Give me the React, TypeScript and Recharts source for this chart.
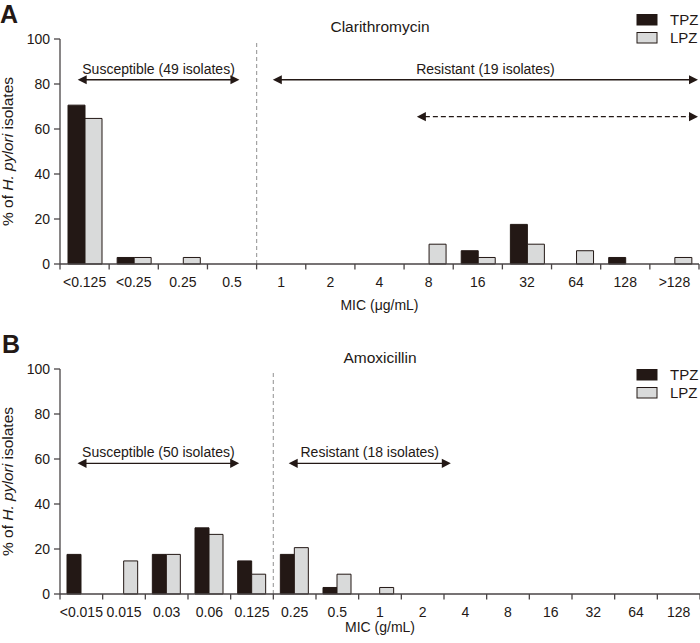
import React from 'react';
import { BarChart, Bar, XAxis, YAxis, ReferenceLine } from 'recharts';

// ---------- data ----------
const categoriesA = ['<0.125', '<0.25', '0.25', '0.5', '1', '2', '4', '8', '16', '32', '64', '128', '>128'];
const tpzA = [70.6, 2.9, 0, 0, 0, 0, 0, 0, 5.9, 17.6, 0, 2.9, 0];
const lpzA = [64.7, 2.9, 2.9, 0, 0, 0, 0, 8.8, 2.9, 8.8, 5.9, 0, 2.9];

const categoriesB = ['<0.015', '0.015', '0.03', '0.06', '0.125', '0.25', '0.5', '1', '2', '4', '8', '16', '32', '64', '128'];
const tpzB = [17.6, 0, 17.6, 29.4, 14.7, 17.6, 2.9, 0, 0, 0, 0, 0, 0, 0, 0];
const lpzB = [0, 14.7, 17.6, 26.5, 8.8, 20.6, 8.8, 2.9, 0, 0, 0, 0, 0, 0, 0];

const yTicks = [0, 20, 40, 60, 80, 100];

// annotation arrows (from/to in category units along the axis, y in %)
const arrowsA = [
  { from: 0.36, to: 3.65, y: 81.9, text: 'Susceptible (49 isolates)', dashed: false },
  { from: 4.33, to: 12.98, y: 81.9, text: 'Resistant (19 isolates)', dashed: false },
  { from: 7.26, to: 12.98, y: 65.5, text: '', dashed: true },
];
const arrowsB = [
  { from: 0.41, to: 4.2, y: 58.1, text: 'Susceptible (50 isolates)', dashed: false },
  { from: 5.36, to: 9.16, y: 58.1, text: 'Resistant (18 isolates)', dashed: false },
];

const dataA = categoriesA.map((mic, i) => ({ mic, tpz: tpzA[i], lpz: lpzA[i] }));
const dataB = categoriesB.map((mic, i) => ({ mic, tpz: tpzB[i], lpz: lpzB[i] }));

// ---------- style ----------
const FONT = "'Liberation Sans', Arial, Helvetica, sans-serif";
const INK = '#231815';
const AXIS = '#4a4546';
const LPZ_FILL = '#d9dada';

// shape for an annotation arrow. The segment is anchored at the start of two
// categories (through the band scale); fractional parts are applied with the
// scale's own step (derived from the two anchored pixel positions).
function makeArrow(from: number, to: number, text: string, dashed: boolean) {
  const i0 = Math.floor(from);
  const i1 = Math.floor(to);
  return (p: any) => {
    const a = Number(p.x1);
    const b = Number(p.x2);
    const step = (b - a) / (i1 - i0);
    const x1 = a + (from - i0) * step;
    const x2 = b + (to - i1) * step;
    const y = Number(p.y1);
    const L = 9;
    const H = 4.6;
    return (
      <g>
        <line
          x1={x1 + L - 1}
          y1={y}
          x2={x2 - L + 1}
          y2={y}
          stroke={INK}
          strokeWidth={1.3}
          strokeDasharray={dashed ? '5 3' : undefined}
        />
        <polygon points={`${x1},${y} ${x1 + L},${y - H} ${x1 + L},${y + H}`} fill={INK} />
        <polygon points={`${x2},${y} ${x2 - L},${y - H} ${x2 - L},${y + H}`} fill={INK} />
        {text ? (
          <text x={(x1 + x2) / 2} y={y - 6} textAnchor="middle" fontSize={14} fill={INK} fontFamily={FONT}>
            {text}
          </text>
        ) : null}
      </g>
    );
  };
}

function yLabel(props: any) {
  const vb = props.viewBox || { x: 0, y: 0, width: 60, height: 225 };
  const cy = vb.y + vb.height / 2;
  const x = 12.5;
  return (
    <text
      x={x}
      y={cy}
      transform={`rotate(-90, ${x}, ${cy})`}
      textAnchor="middle"
      fontSize={15.5}
      fill={INK}
      fontFamily={FONT}
    >
      % of <tspan fontStyle="italic">H. pylori</tspan> isolates
    </text>
  );
}

function makeXLabel(text: string, dy: number) {
  return (props: any) => {
    const vb = props.viewBox || { x: 60, y: 264, width: 639, height: 50 };
    return (
      <text x={vb.x + vb.width / 2} y={vb.y + dy} textAnchor="middle" fontSize={14} fill={INK} fontFamily={FONT}>
        {text}
      </text>
    );
  };
}

type Arrow = { from: number; to: number; y: number; text: string; dashed: boolean };

type PanelProps = {
  data: any[];
  cats: string[];
  arrows: Arrow[];
  divider: number;
  height: number;
  marginTop: number;
  marginRight: number;
  xAxisHeight: number;
  xLabel: string;
  xLabelDy: number;
  barSize: number;
};

function Panel(p: PanelProps) {
  const n = p.cats.length;
  const boundaries = Array.from({ length: n + 1 }, (_, i) => i);
  return (
    <BarChart
      width={700}
      height={p.height}
      data={p.data}
      margin={{ top: p.marginTop, right: p.marginRight, bottom: 6, left: 0 }}
      barGap={0}
      style={{ fontFamily: FONT }}
    >
      <XAxis
        dataKey="mic"
        interval={0}
        tickLine={false}
        axisLine={{ stroke: AXIS, strokeWidth: 1.3 }}
        tick={{ fontSize: 14, fill: INK }}
        tickSize={6}
        tickMargin={7}
        height={p.xAxisHeight}
        label={makeXLabel(p.xLabel, p.xLabelDy)}
      />
      <YAxis
        width={60}
        domain={[0, 100]}
        ticks={yTicks}
        interval={0}
        tickSize={6}
        tickMargin={4}
        axisLine={{ stroke: AXIS, strokeWidth: 1.3 }}
        tickLine={{ stroke: AXIS, strokeWidth: 1.3 }}
        tick={{ fontSize: 14, fill: INK }}
        label={yLabel}
      />
      <Bar
        dataKey="tpz"
        name="TPZ"
        fill={INK}
        stroke={INK}
        strokeWidth={1}
        barSize={p.barSize}
        isAnimationActive={false}
      />
      <Bar
        dataKey="lpz"
        name="LPZ"
        fill={LPZ_FILL}
        stroke={INK}
        strokeWidth={1}
        barSize={p.barSize}
        isAnimationActive={false}
      />
      {boundaries.map((b) => {
        const cat = p.cats[Math.min(b, n - 1)];
        return (
          <ReferenceLine
            key={`tk-${b}`}
            ifOverflow="visible"
            position={b < n ? 'start' : 'end'}
            segment={[
              { x: cat, y: 0 },
              { x: cat, y: -2.4 },
            ]}
            stroke={AXIS}
            strokeWidth={1.3}
          />
        );
      })}
      <ReferenceLine
        ifOverflow="visible"
        position="start"
        segment={[
          { x: p.cats[p.divider], y: 0 },
          { x: p.cats[p.divider], y: 98.7 },
        ]}
        stroke="#a3a3a3"
        strokeWidth={1.2}
        strokeDasharray="4 3"
      />
      {p.arrows.map((a, i) => (
        <ReferenceLine
          key={`ar-${i}`}
          ifOverflow="visible"
          position="start"
          segment={[
            { x: p.cats[Math.floor(a.from)], y: a.y },
            { x: p.cats[Math.floor(a.to)], y: a.y },
          ]}
          stroke={INK}
          shape={makeArrow(a.from, a.to, a.text, a.dashed)}
        />
      ))}
    </BarChart>
  );
}

function LegendBlock({ top }: { top: number }) {
  return (
    <g>
      <rect x={637} y={top} width={20} height={10.5} fill={INK} stroke={INK} strokeWidth={1} />
      <text x={670} y={top + 10.5} fontSize={15} fill={INK} fontFamily={FONT}>
        TPZ
      </text>
      <rect x={637} y={top + 18} width={20} height={10.5} fill={LPZ_FILL} stroke={INK} strokeWidth={1} />
      <text x={670} y={top + 28.5} fontSize={15} fill={INK} fontFamily={FONT}>
        LPZ
      </text>
    </g>
  );
}

export default function App() {
  return (
    <div
      style={{
        position: 'absolute',
        left: 0,
        top: 0,
        width: 700,
        height: 643,
        background: '#ffffff',
        fontFamily: FONT,
        overflow: 'hidden',
      }}
    >
      <div style={{ position: 'absolute', left: 0, top: 0 }}>
        <Panel
          data={dataA}
          cats={categoriesA}
          arrows={arrowsA}
          divider={4}
          height={320}
          marginTop={39}
          marginRight={1}
          xAxisHeight={50}
          xLabel="MIC (μg/mL)"
          xLabelDy={46}
          barSize={17}
        />
      </div>
      <div style={{ position: 'absolute', left: 0, top: 320 }}>
        <Panel
          data={dataB}
          cats={categoriesB}
          arrows={arrowsB}
          divider={5}
          height={323}
          marginTop={49}
          marginRight={0}
          xAxisHeight={43}
          xLabel="MIC (g/mL)"
          xLabelDy={37.5}
          barSize={14}
        />
      </div>
      <svg
        width={700}
        height={643}
        style={{ position: 'absolute', left: 0, top: 0, pointerEvents: 'none' }}
      >
        <text
          x={0}
          y={23}
          fontSize={25}
          fontWeight="bold"
          fill={INK}
          fontFamily="'Liberation Sans Narrow', 'Liberation Sans', Arial, sans-serif"
        >
          A
        </text>
        <text
          x={2}
          y={353}
          fontSize={25}
          fontWeight="bold"
          fill={INK}
          fontFamily="'Liberation Sans Narrow', 'Liberation Sans', Arial, sans-serif"
        >
          B
        </text>
        <text x={380} y={32} textAnchor="middle" fontSize={15.5} fill={INK} fontFamily={FONT}>
          Clarithromycin
        </text>
        <text x={380} y={362.5} textAnchor="middle" fontSize={15.5} fill={INK} fontFamily={FONT}>
          Amoxicillin
        </text>
        <LegendBlock top={14.5} />
        <LegendBlock top={369.5} />
      </svg>
    </div>
  );
}
